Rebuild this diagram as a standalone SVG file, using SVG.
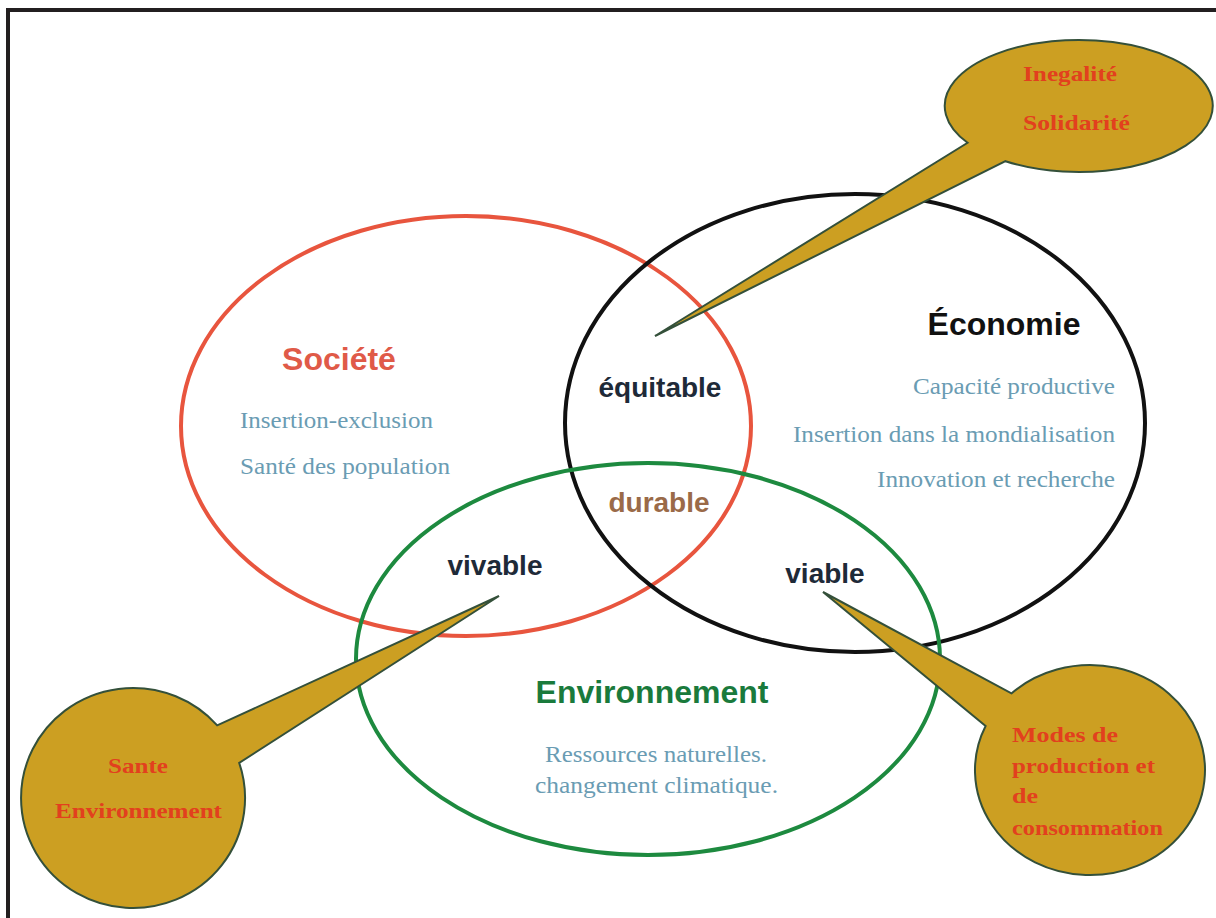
<svg xmlns="http://www.w3.org/2000/svg" width="1216" height="918" viewBox="0 0 1216 918">
<style>
.ring{fill:none;stroke-width:4}
.head{font-family:"Liberation Sans",Arial,sans-serif;font-weight:bold;text-anchor:middle}
.item{font-family:"Liberation Serif","Times New Roman",serif;font-size:23px;fill:#6a9cb3}
.inter{font-family:"Liberation Sans",Arial,sans-serif;font-weight:bold;font-size:28px;fill:#1e2a38;text-anchor:middle}
.bubble{fill:#cc9f22;stroke:#34503a;stroke-width:2}
.btxt{font-family:"Liberation Serif","Times New Roman",serif;font-weight:bold;font-size:21px;fill:#e2401e}
</style>
<rect x="0" y="0" width="1216" height="918" fill="#ffffff"/>
<g id="frame">
<line x1="6" y1="10" x2="1216" y2="10" stroke="#231f20" stroke-width="4"/>
<line x1="8" y1="8" x2="8" y2="918" stroke="#231f20" stroke-width="4"/>
</g>
<g id="rings">
<ellipse id="ring-societe" class="ring" cx="466" cy="426" rx="285" ry="210" stroke="#e8553e"/>
<ellipse id="ring-economie" class="ring" cx="855" cy="423" rx="290" ry="229" stroke="#111111"/>
<ellipse id="ring-environnement" class="ring" cx="648" cy="659" rx="292" ry="196" stroke="#1d8a3f"/>
</g>
<g id="societe">
<text class="head" x="339" y="370" font-size="32" fill="#e05a48">Société</text>
<text class="item" x="240" y="428" textLength="193" lengthAdjust="spacingAndGlyphs">Insertion-exclusion</text>
<text class="item" x="240" y="474" textLength="210" lengthAdjust="spacingAndGlyphs">Santé des population</text>
</g>
<g id="economie">
<text class="head" x="1004" y="335" font-size="32" fill="#111111">Économie</text>
<text class="item" x="913" y="394" textLength="202" lengthAdjust="spacingAndGlyphs">Capacité productive</text>
<text class="item" x="793" y="442" textLength="322" lengthAdjust="spacingAndGlyphs">Insertion dans la mondialisation</text>
<text class="item" x="877" y="487" textLength="238" lengthAdjust="spacingAndGlyphs">Innovation et recherche</text>
</g>
<g id="environnement">
<text class="head" x="652" y="703" font-size="32" fill="#1a7a3c">Environnement</text>
<text class="item" x="545" y="762" textLength="222" lengthAdjust="spacingAndGlyphs">Ressources naturelles.</text>
<text class="item" x="535" y="793" textLength="243" lengthAdjust="spacingAndGlyphs">changement climatique.</text>
</g>
<g id="intersections">
<text class="inter" x="660" y="397">équitable</text>
<text class="inter" x="659" y="512" style="fill:#9a6a48">durable</text>
<text class="inter" x="495" y="575">vivable</text>
<text class="inter" x="825" y="583">viable</text>
</g>
<g id="callouts">
<g id="callout-inegalite">
<path class="bubble" d="M 967.6 142.8 A 134 66 0 1 1 1005.5 161.2 L 655 336 Z"/>
<text class="btxt" x="1023" y="81" textLength="94" lengthAdjust="spacingAndGlyphs">Inegalité</text>
<text class="btxt" x="1023" y="130" textLength="107" lengthAdjust="spacingAndGlyphs">Solidarité</text>
</g>
<g id="callout-sante">
<path class="bubble" d="M 239.2 762.9 A 112 110 0 1 1 217.2 725.4 L 499 596 Z"/>
<text class="btxt" x="108" y="773" textLength="60" lengthAdjust="spacingAndGlyphs">Sante</text>
<text class="btxt" x="55" y="818" textLength="167" lengthAdjust="spacingAndGlyphs">Environnement</text>
</g>
<g id="callout-modes">
<path class="bubble" d="M 1011.4 693.4 A 115 105 0 1 1 985.6 726 L 823 592 Z"/>
<text class="btxt" x="1012" y="742" textLength="106" lengthAdjust="spacingAndGlyphs">Modes de</text>
<text class="btxt" x="1012" y="773" textLength="143" lengthAdjust="spacingAndGlyphs">production et</text>
<text class="btxt" x="1012" y="803" textLength="26" lengthAdjust="spacingAndGlyphs">de</text>
<text class="btxt" x="1012" y="835" textLength="151" lengthAdjust="spacingAndGlyphs">consommation</text>
</g>
</g>
</svg>
